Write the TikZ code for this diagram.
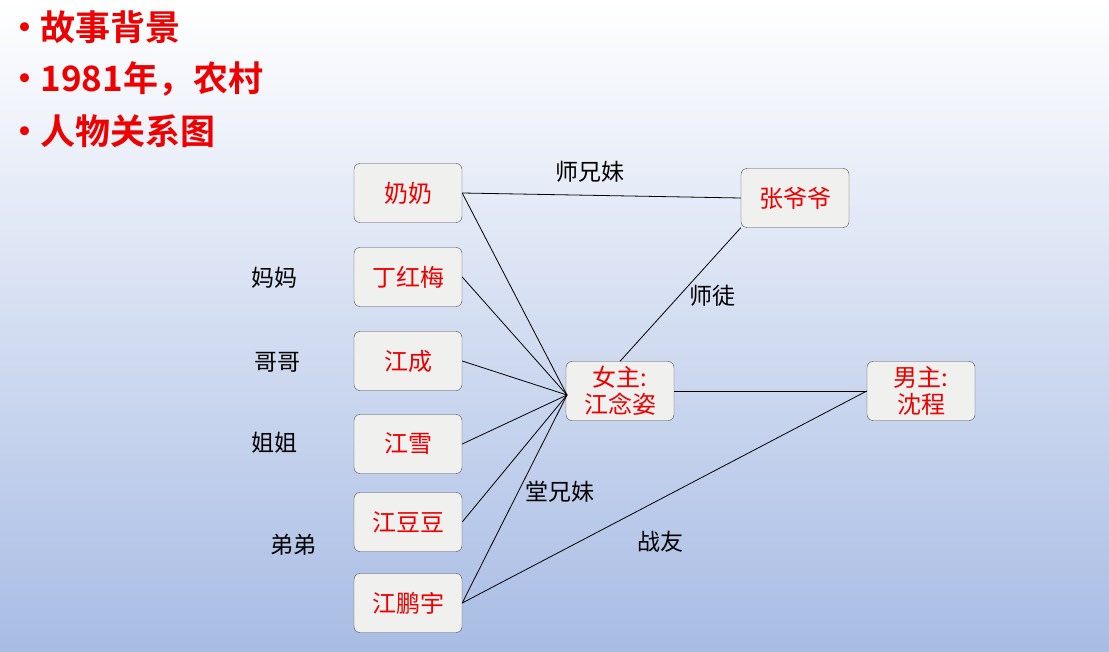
\documentclass[tikz,border=0pt]{standalone}
\usepackage{fontspec}
\newfontfamily\cjk{Noto Sans CJK SC}
\newfontfamily\cjkb{Noto Sans CJK SC Bold}
\definecolor{bgb}{HTML}{A8BCE4}
\definecolor{boxf}{HTML}{F0F0EF}
\definecolor{tred}{HTML}{EE0000}
\begin{document}
\begin{tikzpicture}[x=1pt,y=-1pt,
  pbox/.style={draw=black!70,fill=boxf,rounded corners=6pt,minimum width=108pt,minimum height=59pt,text=tred,font=\cjk\fontsize{24}{27}\selectfont,align=center},
  lbl/.style={font=\cjk\fontsize{23}{26}\selectfont,text=black},
  ttl/.style={anchor=west,text=tred,font=\cjkb\fontsize{35}{40}\selectfont},
  con/.style={draw=black,line width=0.8pt}]
\shade[top color=white,bottom color=bgb] (0,0) rectangle (1109,652);
\useasboundingbox (0,0) rectangle (1109,652);
\node[ttl] (t1) at (4,27) {•\hspace{-2pt}故事背景};
\node[ttl] (t2) at (4,79) {•\hspace{-2pt}1981年，农村};
\node[ttl] (t3) at (4,131) {•\hspace{-2pt}人物关系图};
\node[pbox] (nn) at (408,193) {奶奶};
\node[pbox] (dhm) at (408,277) {丁红梅};
\node[pbox] (jc) at (408,361) {江成};
\node[pbox] (jx) at (408,444) {江雪};
\node[pbox] (jdd) at (408,522) {江豆豆};
\node[pbox] (jpy) at (408,603) {江鹏宇};
\node[pbox] (zyy) at (795,198) {张爷爷};
\node[pbox] (nvz) at (620,391) {女主:\\江念姿};
\node[pbox] (nanz) at (921,391) {男主:\\沈程};
\coordinate (hub) at (567,395);
\draw[con] (nn.east) -- (zyy.west);
\foreach \n in {nn,dhm,jc,jx,jdd,jpy} \draw[con] (\n.east) -- (hub);
\draw[con] (jpy.east) -- (nanz.west);
\draw[con] (nvz.north) -- (zyy.south west);
\draw[con] (nvz.east) -- (nanz.west);
\node[lbl] (l1) at (590,172) {师兄妹};
\node[lbl] (l2) at (712,296) {师徒};
\node[lbl] (l3) at (560,492) {堂兄妹};
\node[lbl] (l4) at (660,542) {战友};
\node[lbl] (m1) at (274,278) {妈妈};
\node[lbl] (m2) at (277,362) {哥哥};
\node[lbl] (m3) at (274,443) {姐姐};
\node[lbl] (m4) at (293,545) {弟弟};
\end{tikzpicture}
\end{document}
